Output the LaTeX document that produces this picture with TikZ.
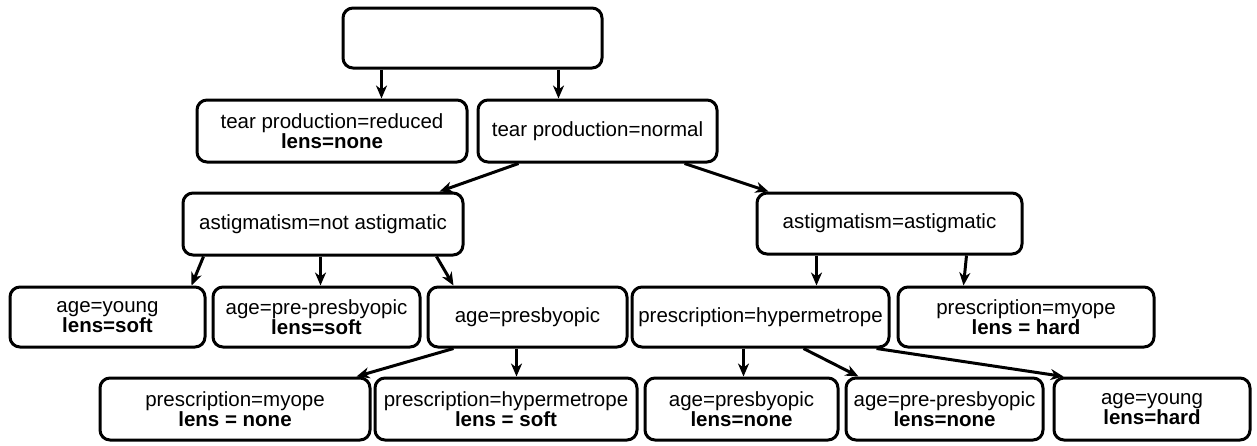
\documentclass[tikz,border=0pt]{standalone}
\usepackage{fontspec}
\setmainfont{Liberation Sans}
\usetikzlibrary{calc,arrows.meta}
\begin{document}
\begin{tikzpicture}[x=1pt,y=-1pt,
  box/.style={draw, line width=3pt, rounded corners=10pt, align=center,
    inner sep=1pt, font=\fontsize{20.5}{19.5}\selectfont},
  arr/.style={line width=3pt, -{Stealth[length=13pt,width=11pt,inset=4pt]}}]
\useasboundingbox (0,0) rectangle (1257,445);
% level 0
\node[box, minimum width=259pt, minimum height=60pt] (root) at (472.5,38) {};
% level 1
\node[box, minimum width=270pt, minimum height=62pt] (reduced) at (332,131) {tear production=reduced\\\textbf{lens=none}};
\node[box, minimum width=239pt, minimum height=62pt] (normal) at (597.5,131) {tear production=normal};
% level 2
\node[box, minimum width=280pt, minimum height=62pt] (notast) at (323,224) {astigmatism=not astigmatic};
\node[box, minimum width=265pt, minimum height=61pt] (ast) at (889.5,223.5) {astigmatism=astigmatic};
% level 3
\node[box, minimum width=195pt, minimum height=60pt] (young) at (107.5,317) {age=young\\\textbf{lens=soft}};
\node[box, minimum width=207pt, minimum height=60pt] (prepres) at (316.5,317) {age=pre-presbyopic\\\textbf{lens=soft}};
\node[box, minimum width=199pt, minimum height=60pt] (presby) at (527.5,317) {age=presbyopic};
\node[box, minimum width=257pt, minimum height=60pt] (hyper) at (760.5,317) {prescription=hypermetrope};
\node[box, minimum width=256pt, minimum height=60pt] (myopeH) at (1026,317) {prescription=myope\\\textbf{lens = hard}};
% level 4
\node[box, minimum width=270pt, minimum height=62pt] (myopeN) at (235,409) {prescription=myope\\\textbf{lens = none}};
\node[box, minimum width=262pt, minimum height=62pt] (hyperS) at (506,409) {prescription=hypermetrope\\\textbf{lens = soft}};
\node[box, minimum width=193pt, minimum height=62pt] (presbyN) at (741.5,409) {age=presbyopic\\\textbf{lens=none}};
\node[box, minimum width=197pt, minimum height=62pt] (prepresN) at (944.5,409) {age=pre-presbyopic\\\textbf{lens=none}};
\node[box, minimum width=196pt, minimum height=62pt] (youngH) at (1152,409) {age=young\\\textbf{lens=hard}};
% connectors
\draw[arr] ($(root.south west)+(40,0)$) -- ($(reduced.north west)+(186,0)$);
\draw[arr] ($(root.south west)+(217,0)$) -- ($(normal.north west)+(82,0)$);
\draw[arr] ($(normal.south west)+(42,0)$) -- ($(notast.north east)+(-25,0)$);
\draw[arr] ($(normal.south east)+(-34,0)$) -- ($(ast.north west)+(13,0)$);
\draw[arr] ($(notast.south west)+(22,0)$) -- ($(young.north east)+(-15,0)$);
\draw[arr] ($(notast.south west)+(139,0)$) -- ($(prepres.north west)+(109,0)$);
\draw[arr] ($(notast.south east)+(-28,0)$) -- ($(presby.north west)+(27,0)$);
\draw[arr] ($(ast.south west)+(61,0)$) -- ($(hyper.north west)+(186,0)$);
\draw[arr] ($(ast.south east)+(-57,0)$) -- ($(myopeH.north west)+(67,0)$);
\draw[arr] ($(presby.south west)+(27,0)$) -- ($(myopeN.north east)+(-15,0)$);
\draw[arr] ($(presby.south west)+(90,0)$) -- ($(hyperS.north west)+(143,0)$);
\draw[arr] ($(hyper.south west)+(113,0)$) -- ($(presbyN.north west)+(100,0)$);
\draw[arr] ($(hyper.south west)+(173,0)$) -- ($(prepresN.north west)+(14,0)$);
\draw[arr] ($(hyper.south east)+(-14,0)$) -- ($(youngH.north west)+(11,0)$);
\end{tikzpicture}
\end{document}
